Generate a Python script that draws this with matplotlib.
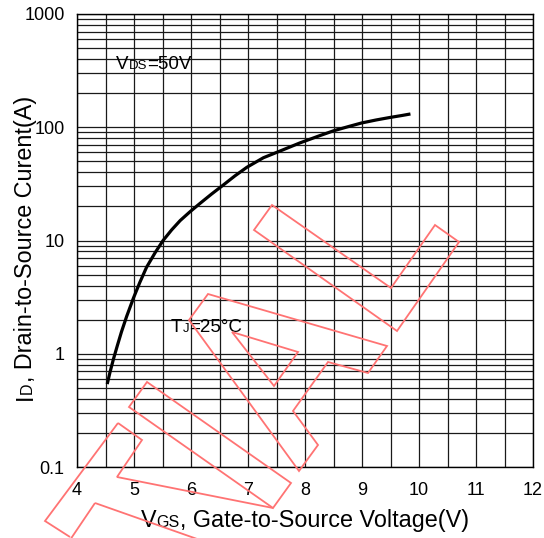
import numpy as np
import matplotlib.pyplot as plt
from matplotlib.patches import Polygon
from matplotlib.transforms import IdentityTransform

plt.rcParams['font.family'] = ['Liberation Sans', 'DejaVu Sans']

# transfer characteristic
vgs = [4.53, 4.58, 4.64, 4.71, 4.78, 4.87, 4.99, 5.10, 5.22, 5.37,
       5.51, 5.66, 5.81, 5.98, 6.16, 6.36, 6.57, 6.77, 6.98, 7.27,
       7.56, 7.91, 8.25, 8.5, 8.75, 8.99, 9.25, 9.49, 9.7, 9.85]
i_d = [0.54, 0.69, 0.90, 1.19, 1.56, 2.13, 3.1, 4.24, 5.8, 7.8,
       10, 12.4, 15, 17.9, 21.3, 25.7, 31, 37.2, 44.3, 53.8,
       61.6, 72.7, 84, 93, 101, 109, 116, 122, 127, 131]

x_ticks = [4, 5, 6, 7, 8, 9, 10, 11, 12]
y_ticks = [0.1, 1, 10, 100, 1000]
y_labels = ["0.1", "1", "10", "100", "1000"]

W, H = 544, 538
fig = plt.figure(figsize=(W / 100, H / 100), dpi=100)
ax = fig.add_axes([77 / W, 1 - 467 / H, 456 / W, 453 / H])

ax.plot(vgs, i_d, color='black', lw=2.3, solid_capstyle='butt',
        solid_joinstyle='round', zorder=3)

ax.set_yscale('log')
ax.set_xlim(4, 12)
ax.set_ylim(0.1, 1000)
ax.set_xticks(x_ticks)
ax.set_xticks(np.arange(4, 12.01, 0.5), minor=True)
ax.set_yticks(y_ticks)
ax.set_yticklabels(y_labels)
ax.grid(which='both', color='#1a1a1a', lw=0.9)
ax.tick_params(which='both', length=0, labelsize=13)
ax.tick_params(axis='x', pad=11)
ax.tick_params(axis='y', pad=9)
for s in ax.spines.values():
    s.set_linewidth(1.0)

fig.canvas.draw()
r = fig.canvas.get_renderer()


def rich(x, y, parts, rotation=0):
    # x, y: pixel position (y down) of the left end of the baseline
    y = H - y
    for s, size in parts:
        t = fig.text(x, y, s, fontsize=size, transform=IdentityTransform(),
                     ha='left', va='baseline', rotation=rotation,
                     rotation_mode='anchor')
        bb = t.get_window_extent(r)
        if rotation == 0:
            x += bb.width
        else:
            y += bb.height


rich(116, 69, [("V", 13.5), ("DS", 9.5), ("=50V", 13.5)])
rich(171, 332, [("T", 13.5), ("J", 9.5), ("=25°C", 13.5)])
rich(141, 527, [("V", 16.8), ("GS", 11.5), (", Gate-to-Source Voltage(V)", 16.8)])
rich(32, 400, [("I", 16.8), ("D", 11.5), (", Drain-to-Source Curent(A)", 16.8)], rotation=90)

# red outline watermark
marks = [
    [(272, 205), (391, 288), (435, 225), (459, 242), (397, 331), (254, 230)],
    [(208, 294), (387, 346), (368, 373), (328, 362), (293, 411), (318, 445),
     (299, 471), (189, 320)],
    [(232, 332), (298, 352), (274, 386)],
    [(147, 382), (291, 483), (273, 508), (129, 407)],
    [(118, 423), (142, 440), (117, 477), (273, 508)],
    [(118, 423), (45, 521), (70, 537)],
    [(95, 503), (70, 540)],
    [(95, 503), (200, 540)],
]
for k, m in enumerate(marks):
    pts = [(px, H - py) for px, py in m]
    fig.add_artist(Polygon(pts, closed=(k < 4), fill=False,
                           ec=(1.0, 0.45, 0.45), lw=1.3,
                           transform=IdentityTransform(), zorder=5))

fig.savefig('out.png', dpi=100)
